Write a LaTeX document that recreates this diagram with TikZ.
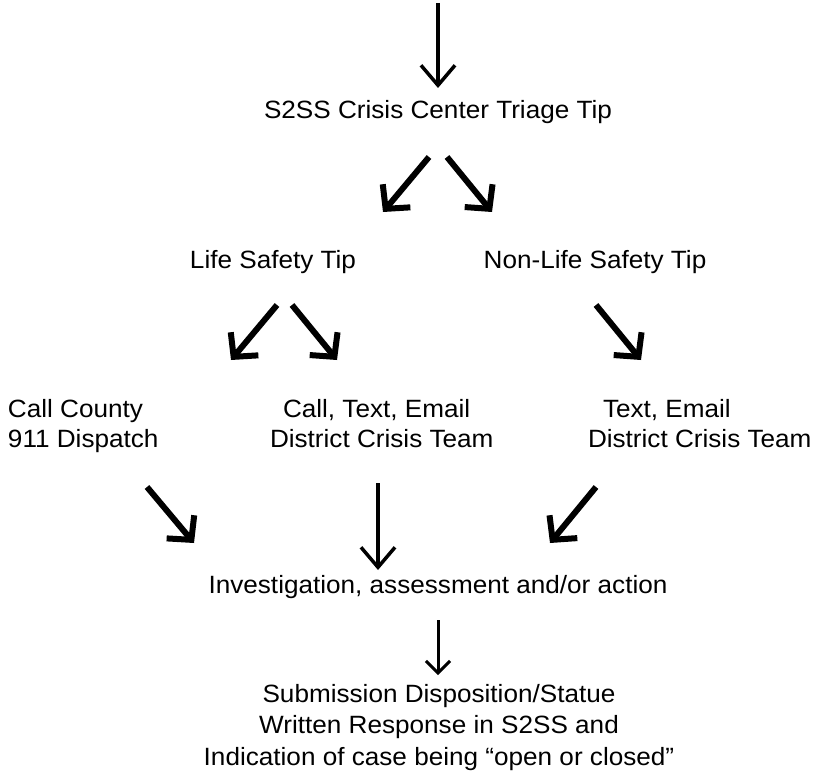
\documentclass[tikz,border=0pt]{standalone}
\usepackage{fontspec}
\setmainfont{Liberation Sans}[FakeStretch=1.045]
\usetikzlibrary{arrows.meta}
\tikzset{
  lbl/.style={inner sep=0pt, outer sep=0pt, anchor=base, font=\fontsize{25}{31}\selectfont},
  twoline/.style={lbl, align=left, anchor=base west, font=\fontsize{25}{30}\selectfont},
  thinarr/.style={line width=3.5pt, -{Straight Barb[length=20pt,width=34pt]}},
  thickarr/.style={line width=6pt, -{Straight Barb[length=17pt,width=36pt]}},
  smallarr/.style={line width=3pt, -{Straight Barb[length=12pt,width=24pt]}}
}
\begin{document}
\begin{tikzpicture}[x=1pt,y=-1pt]
\useasboundingbox (0,0) rectangle (820,773);
% text nodes (multi-line nodes: base = baseline of last line)
\node[lbl] (triage) at (438,119) {S2SS Crisis Center Triage Tip};
\node[lbl] (life) at (273,268) {Life Safety Tip};
\node[lbl] (nonlife) at (595,268) {Non-Life Safety Tip};
\node[twoline] (county) at (8,447) {Call County\\911 Dispatch};
\node[twoline] (dct) at (270,447) {\hspace*{13pt}Call, Text, Email\\District Crisis Team};
\node[twoline] (dct2) at (588,447) {\hspace*{15pt}Text, Email\\District Crisis Team};
\node[lbl] (inv) at (438,593) {Investigation, assessment and/or action};
\node[lbl, align=center, font=\fontsize{25}{31.5}\selectfont] (sub) at (439,765) {Submission Disposition/Statue\\Written Response in S2SS and\\Indication of case being “open or closed”};
% connector end points
\coordinate (top) at (438,3);
\coordinate (a0e) at (438,88);
\coordinate (a1s) at (429,157); \coordinate (a1e) at (383,212);
\coordinate (a2s) at (447,157); \coordinate (a2e) at (492,212);
\coordinate (a3s) at (277,305); \coordinate (a3e) at (231,360);
\coordinate (a4s) at (292,305); \coordinate (a4e) at (337,360);
\coordinate (a5s) at (596,305); \coordinate (a5e) at (641,360);
\coordinate (a6s) at (147,487); \coordinate (a6e) at (194,543);
\coordinate (a7s) at (378,483); \coordinate (a7e) at (378,570);
\coordinate (a8s) at (596,487); \coordinate (a8e) at (550,543);
\coordinate (a9s) at (438,620); \coordinate (a9e) at (438,675);
% connectors
\draw[thinarr] (top) -- (a0e);
\draw[thickarr] (a1s) -- (a1e);
\draw[thickarr] (a2s) -- (a2e);
\draw[thickarr] (a3s) -- (a3e);
\draw[thickarr] (a4s) -- (a4e);
\draw[thickarr] (a5s) -- (a5e);
\draw[thickarr] (a6s) -- (a6e);
\draw[thinarr] (a7s) -- (a7e);
\draw[thickarr] (a8s) -- (a8e);
\draw[smallarr] (a9s) -- (a9e);
\end{tikzpicture}
\end{document}
